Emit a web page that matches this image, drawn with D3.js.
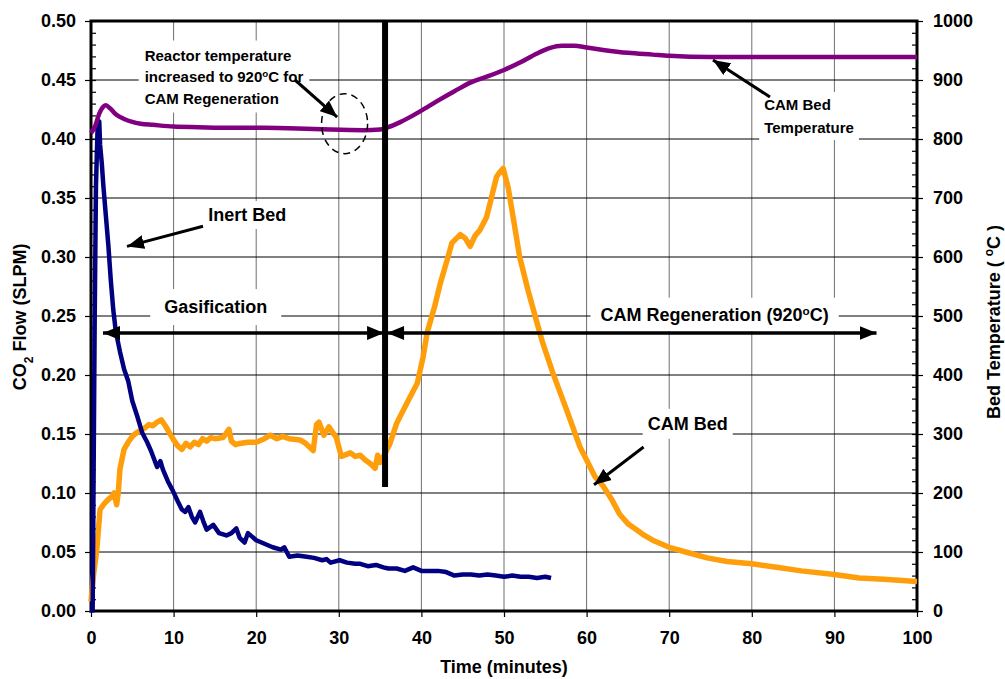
<!DOCTYPE html>
<html>
<head>
<meta charset="utf-8">
<script src="https://cdn.jsdelivr.net/npm/d3@7"></script>
<style>
  body { margin: 0; background: #fff; }
  svg text { font-family: "Liberation Sans", Arial, sans-serif; font-weight: bold; fill: #000; }
</style>
</head>
<body>
<svg id="chart" width="1005" height="679"></svg>
<script>
// time (min), CO2 flow (SLPM) - inert bed
var inertBed = [
    [0.2, 0.0], [0.3, 0.1], [0.45, 0.25], [0.6, 0.36], [0.8, 0.41], [1.0, 0.415], [1.1, 0.395],
    [1.3, 0.38], [1.5, 0.36], [1.8, 0.335], [2.1, 0.31], [2.4, 0.28], [2.7, 0.255], [3.0, 0.237],
    [3.5, 0.22], [4.0, 0.205], [4.5, 0.195], [5.0, 0.178], [5.6, 0.165], [6.2, 0.151], [6.8, 0.143],
    [7.3, 0.135], [8.0, 0.122], [8.4, 0.127], [8.7, 0.12], [9.3, 0.11], [9.9, 0.102], [10.5, 0.093],
    [11.0, 0.086], [11.4, 0.084], [11.8, 0.088], [12.2, 0.08], [12.6, 0.075], [13.2, 0.084],
    [13.6, 0.076], [14.0, 0.069], [14.8, 0.073], [15.5, 0.066], [16.4, 0.064], [17.0, 0.066],
    [17.6, 0.070], [18.0, 0.062], [18.6, 0.058], [19.0, 0.066], [19.5, 0.063], [20.0, 0.060],
    [21.0, 0.057], [22.0, 0.054], [23.0, 0.052], [23.4, 0.054], [24.0, 0.046], [25.0, 0.047],
    [26.1, 0.046], [27.0, 0.045], [28.0, 0.043], [28.5, 0.044], [29.0, 0.041], [30.1, 0.043],
    [31.0, 0.041], [32.0, 0.040], [32.6, 0.040], [33.5, 0.038], [34.5, 0.039], [35.4, 0.037],
    [36.0, 0.036], [37.0, 0.036], [38.0, 0.034], [39.0, 0.037], [40.0, 0.034], [41.0, 0.034],
    [42.0, 0.034], [43.0, 0.033], [44.0, 0.030], [45.0, 0.031], [46.0, 0.031], [47.0, 0.030],
    [48.0, 0.031], [49.0, 0.030], [50.0, 0.029], [51.0, 0.030], [52.0, 0.029], [53.0, 0.029],
    [54.0, 0.028], [55.0, 0.029], [55.7, 0.028]
];

// first rise of the inert bed run (thin blue trace)
var inertRise = [
    [0.1, 0.0], [0.15, 0.04], [0.25, 0.13], [0.35, 0.24], [0.5, 0.34], [0.65, 0.39], [0.85, 0.415]
];

// time (min), CO2 flow (SLPM) - CAM bed
var camBed = [
    [0.0, 0.008], [0.3, 0.03], [0.7, 0.052], [1.1, 0.086], [1.5, 0.09], [2.0, 0.094], [2.5, 0.097],
    [2.8, 0.10], [3.1, 0.09], [3.3, 0.10], [3.5, 0.12], [4.0, 0.137], [4.5, 0.143], [5.0, 0.148],
    [5.5, 0.151], [6.0, 0.153], [6.5, 0.155], [7.0, 0.158], [7.5, 0.157], [8.0, 0.16], [8.5, 0.162],
    [9.0, 0.157], [9.5, 0.151], [10.0, 0.145], [10.5, 0.14], [11.0, 0.137], [11.5, 0.142],
    [12.0, 0.139], [12.5, 0.143], [13.0, 0.141], [13.5, 0.146], [14.0, 0.144], [14.5, 0.147],
    [15.0, 0.146], [16.0, 0.147], [16.7, 0.154], [17.0, 0.144], [17.5, 0.141], [18.0, 0.142],
    [19.0, 0.143], [20.0, 0.143], [21.0, 0.146], [21.7, 0.149], [22.5, 0.146], [23.2, 0.148],
    [24.0, 0.146], [25.3, 0.145], [26.0, 0.142], [26.9, 0.136], [27.3, 0.158], [27.6, 0.160],
    [28.2, 0.149], [28.8, 0.156], [29.3, 0.151], [29.7, 0.147], [30.3, 0.131], [31.4, 0.134],
    [32.0, 0.131], [32.6, 0.132], [33.2, 0.128], [33.8, 0.125], [34.4, 0.121], [34.7, 0.132],
    [35.0, 0.126], [35.4, 0.131], [36.2, 0.142], [37.0, 0.159], [38.3, 0.177], [39.5, 0.193],
    [40.2, 0.215], [40.7, 0.236], [41.6, 0.258], [42.3, 0.278], [43.1, 0.297], [43.7, 0.312],
    [44.7, 0.319], [45.3, 0.316], [45.9, 0.309], [46.5, 0.318], [47.1, 0.323], [47.9, 0.334],
    [48.5, 0.351], [49.1, 0.368], [49.5, 0.372], [49.9, 0.375], [50.5, 0.359], [51.1, 0.334],
    [51.9, 0.300], [52.9, 0.272], [54.0, 0.244], [54.7, 0.227], [55.9, 0.202], [57.6, 0.170],
    [59.2, 0.139], [60.0, 0.128], [61.0, 0.114], [62.0, 0.106], [63.0, 0.095], [64.0, 0.082],
    [65.0, 0.074], [66.0, 0.069], [67.0, 0.064], [68.0, 0.060], [70.0, 0.054], [72.0, 0.050],
    [74.6, 0.045], [77.0, 0.042], [80.0, 0.040], [83.0, 0.037], [86.0, 0.034], [90.0, 0.031],
    [93.0, 0.028], [96.0, 0.027], [100.0, 0.025]
];

// time (min), bed temperature (C) - right axis
var camTemp = [
    [0, 810], [0.5, 822], [1.0, 843], [1.5, 855], [1.8, 857], [2.3, 852], [3, 842], [4, 834],
    [5, 829], [6, 826], [7.5, 824], [10, 821], [13, 820], [17, 819], [21, 819], [25, 818],
    [29, 816], [33, 815], [35, 816], [36, 820], [37.5, 829], [39, 840], [40, 848], [42, 865],
    [44, 881], [46, 896], [48, 906], [50, 917], [52, 930], [54, 945], [55.5, 954], [57, 958],
    [58.5, 958], [60, 955], [62, 951], [65, 946], [68, 943], [70, 941], [75, 939], [80, 939],
    [90, 939], [100, 939]
];

var xTicks = d3.range(0, 101, 10);
var yLeftTicks = d3.range(0, 0.501, 0.05);
var yRightTicks = d3.range(0, 1001, 100);

var switchTime = 35.6;      // temperature raised to 920C
var phaseArrowFlow = 0.2356;

var svg = d3.select("#chart");
var margin = {left: 91, right: 88, top: 21, bottom: 68};
var W = 1005, H = 679;

var x = d3.scaleLinear().domain([0, 100]).range([margin.left, W - margin.right]);
var yL = d3.scaleLinear().domain([0, 0.5]).range([H - margin.bottom, margin.top]);
var yR = d3.scaleLinear().domain([0, 1000]).range([H - margin.bottom, margin.top]);

var defs = svg.append("defs");
defs.append("marker")
    .attr("id", "head")
    .attr("markerUnits", "userSpaceOnUse")
    .attr("markerWidth", 18).attr("markerHeight", 14)
    .attr("refX", 17).attr("refY", 7)
    .attr("orient", "auto-start-reverse")
    .append("path")
    .attr("d", "M0,0 L17,7 L0,14 Z")
    .attr("fill", "#000");

// grid
var grid = svg.append("g");
grid.selectAll(".vgrid").data(xTicks.slice(1, -1)).enter().append("line")
    .attr("x1", function(d) { return x(d); }).attr("x2", function(d) { return x(d); })
    .attr("y1", yL(0)).attr("y2", yL(0.5))
    .attr("stroke", "#6e6e6e").attr("stroke-width", 1);
grid.selectAll(".hgrid").data(yLeftTicks.slice(1, -1)).enter().append("line")
    .attr("x1", x(0)).attr("x2", x(100))
    .attr("y1", function(d) { return yL(d); }).attr("y2", function(d) { return yL(d); })
    .attr("stroke", "#000").attr("stroke-width", 1);

// white label boxes sit over the grid
var boxLayer = svg.append("g");

// axes
var fmt2 = d3.format(".2f");
var axL = svg.append("g").attr("transform", "translate(" + x(0) + ",0)")
    .call(d3.axisLeft(yL).tickValues(yLeftTicks).tickFormat(fmt2).tickSize(6).tickPadding(9));
var axLminor = svg.append("g").attr("transform", "translate(" + x(0) + ",0)")
    .call(d3.axisLeft(yL).tickValues(d3.range(0, 0.501, 0.01)).tickFormat("").tickSize(-5));
var axR = svg.append("g").attr("transform", "translate(" + x(100) + ",0)")
    .call(d3.axisRight(yR).tickValues(yRightTicks).tickFormat(d3.format("d")).tickSize(6).tickPadding(10));
var axRminor = svg.append("g").attr("transform", "translate(" + x(100) + ",0)")
    .call(d3.axisRight(yR).tickValues(d3.range(0, 1001, 20)).tickFormat("").tickSize(-5));
var axB = svg.append("g").attr("transform", "translate(0," + yL(0) + ")")
    .call(d3.axisBottom(x).tickValues(xTicks).tickSize(6).tickPadding(14));

[axL, axLminor, axR, axRminor, axB].forEach(function(a) {
    a.select(".domain").remove();
    a.selectAll(".tick line").attr("stroke", "#000").attr("stroke-width", 1.2);
    a.selectAll(".tick text").style("font-size", "18px").style("font-family", "Liberation Sans, Arial, sans-serif")
        .style("font-weight", "bold").attr("fill", "#000");
});

// plot frame
svg.append("rect")
    .attr("x", x(0)).attr("y", yL(0.5))
    .attr("width", x(100) - x(0)).attr("height", yL(0) - yL(0.5))
    .attr("fill", "none").attr("stroke", "#000").attr("stroke-width", 3);

// series
var lineL = d3.line().x(function(d) { return x(d[0]); }).y(function(d) { return yL(d[1]); });
var lineR = d3.line().x(function(d) { return x(d[0]); }).y(function(d) { return yR(d[1]); });

svg.append("path").datum(camBed).attr("d", lineL)
    .attr("fill", "none").attr("stroke", "#ff9e0b").attr("stroke-width", 5.5).attr("stroke-linejoin", "round");
svg.append("path").datum(inertRise).attr("d", lineL)
    .attr("fill", "none").attr("stroke", "#1a1aff").attr("stroke-width", 1.5);
svg.selectAll(".riseMark").data(inertRise).enter().append("path")
    .attr("d", d3.symbol().type(d3.symbolTriangle).size(12))
    .attr("transform", function(d) { return "translate(" + x(d[0]) + "," + yL(d[1]) + ")"; })
    .attr("fill", "#000080");
svg.append("path").datum(inertBed).attr("d", lineL)
    .attr("fill", "none").attr("stroke", "#000080").attr("stroke-width", 4.5).attr("stroke-linejoin", "round");
svg.append("path").datum(camTemp).attr("d", lineR.curve(d3.curveMonotoneX))
    .attr("fill", "none").attr("stroke", "#800080").attr("stroke-width", 4.5);

// switch-over bar
svg.append("line")
    .attr("x1", x(switchTime)).attr("x2", x(switchTime))
    .attr("y1", yL(0.5)).attr("y2", yL(0.105))
    .attr("stroke", "#000").attr("stroke-width", 6);

// phase arrows
function arrow(x1, y1, x2, y2, both, w) {
    var l = svg.append("line")
        .attr("x1", x1).attr("y1", y1).attr("x2", x2).attr("y2", y2)
        .attr("stroke", "#000").attr("stroke-width", w || 3)
        .attr("marker-end", "url(#head)");
    if (both) l.attr("marker-start", "url(#head)");
}
arrow(x(1.45), yL(phaseArrowFlow), x(switchTime) - 1, yL(phaseArrowFlow), true, 3.5);
arrow(x(switchTime) + 1, yL(phaseArrowFlow), x(95.1), yL(phaseArrowFlow), false, 3.5);
svg.append("path")
    .attr("d", "M" + (x(switchTime) + 2) + "," + yL(phaseArrowFlow) + " l17,-7 l0,14 Z")
    .attr("fill", "#000");

// annotation arrows
arrow(x(24.7), yL(0.45), x(29.8), yL(0.4186));
arrow(x(13.56), yL(0.326), x(4.36), yL(0.309));
arrow(x(66.9), yL(0.139), x(60.9), yL(0.107));
arrow(x(82.2), yL(0.4356), x(75.3), yL(0.467));

svg.append("ellipse")
    .attr("cx", x(30.7)).attr("cy", yL(0.413))
    .attr("rx", 23).attr("ry", 30)
    .attr("fill", "none").attr("stroke", "#000").attr("stroke-width", 1.5)
    .attr("stroke-dasharray", "7,5");

// text labels with white backing
function label(lines, tx, ty, size, lh, anchor, pad) {
    var t = svg.append("text").attr("x", tx).attr("y", ty)
        .attr("text-anchor", anchor || "start").style("font-size", size + "px");
    lines.forEach(function(parts, i) {
        var first = true;
        parts.forEach(function(p) {
            var s = t.append("tspan").text(p.t);
            if (first) { s.attr("x", tx).attr("dy", i === 0 ? 0 : lh); first = false; }
            if (p.sup) s.attr("baseline-shift", "super").style("font-size", (size * 0.65) + "px");
        });
    });
    var b = t.node().getBBox();
    pad = pad || [4, 4];
    boxLayer.append("rect")
        .attr("x", b.x - pad[0]).attr("y", b.y - pad[1])
        .attr("width", b.width + 2 * pad[0]).attr("height", b.height + 2 * pad[1])
        .attr("fill", "#fff");
    return t;
}

label([[{t: "Reactor temperature"}],
       [{t: "increased to 920"}, {t: "o", sup: true}, {t: "C for"}],
       [{t: "CAM Regeneration"}]], x(6.5), yL(0.4665), 15, 21.5, "start", [6, 6]);
label([[{t: "Inert Bed"}]], x(14.2), yL(0.3305), 18, 0, "start", [4, 4]);
label([[{t: "Gasification"}]], x(15.1), yL(0.2525), 18, 0, "middle", [14, 8]);
label([[{t: "CAM Regeneration (920"}, {t: "o", sup: true}, {t: "C)"}]], x(75.5), yL(0.2456), 18, 0, "middle", [10, 6]);
label([[{t: "CAM Bed"}]], x(67.4), yL(0.1535), 18, 0, "start", [5, 5]);
label([[{t: "CAM Bed"}], [{t: "Temperature"}]], x(81.5), yL(0.4245), 15, 23, "start", [5, 4]);

// axis titles
var yt = svg.append("text")
    .attr("transform", "translate(26," + yL(0.2492) + ") rotate(-90)")
    .attr("text-anchor", "middle").style("font-size", "18px");
yt.append("tspan").text("CO");
yt.append("tspan").text("2").attr("baseline-shift", "sub").style("font-size", "12px");
yt.append("tspan").text(" Flow (SLPM)");

var rt = svg.append("text")
    .attr("transform", "translate(1000," + yL(0.245) + ") rotate(-90)")
    .attr("text-anchor", "middle").style("font-size", "18px");
rt.append("tspan").text("Bed Temperature ( ");
rt.append("tspan").text("o").attr("baseline-shift", "super").style("font-size", "12px");
rt.append("tspan").text("C )");

svg.append("text").attr("x", x(50)).attr("y", 673)
    .attr("text-anchor", "middle").style("font-size", "18px")
    .text("Time (minutes)");
</script>
</body>
</html>
